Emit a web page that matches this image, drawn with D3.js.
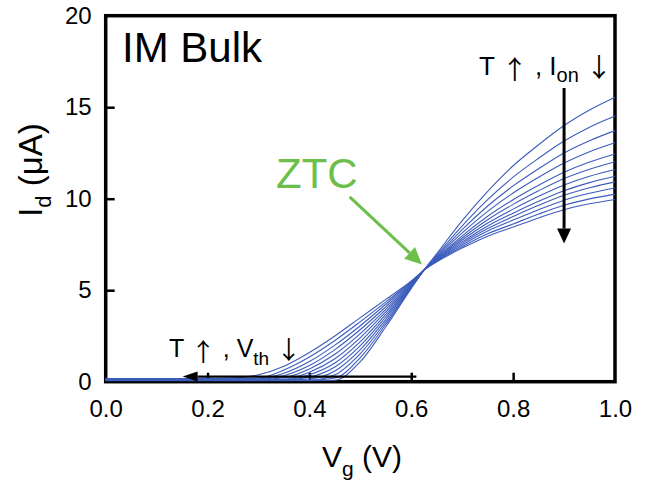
<!DOCTYPE html>
<html><head><meta charset="utf-8">
<script src="https://cdn.jsdelivr.net/npm/d3@7"></script>
<style>
html,body{margin:0;padding:0;background:#fff;}
svg{display:block;font-family:Arial,"Liberation Sans",sans-serif;}
</style></head>
<body>
<svg id="c" width="649" height="482"></svg>
<script>
// Gate voltage grid (V)
const vg = [0, 0.1, 0.2, 0.25, 0.3, 0.35, 0.4, 0.45, 0.5, 0.55, 0.6, 0.625, 0.65, 0.7, 0.75, 0.8, 0.85, 0.9, 0.95, 1.0];
// Drain current (uA), one curve per temperature, coldest first
const id_T0  = [.06,.06,.06,.06,.06,.06,.06,.08,1.1,3.0,5.1,6.1,7.0,8.8,10.4,11.8,12.95,14.0,14.85,15.55];
const id_T1  = [.07,.07,.07,.07,.07,.07,.07,.2,1.32,3.14,5.14,6.1,6.92,8.52,9.95,11.18,12.21,13.15,13.91,14.52];
const id_T2  = [.08,.08,.08,.08,.08,.08,.08,.38,1.54,3.27,5.17,6.1,6.85,8.31,9.6,10.7,11.64,12.5,13.17,13.72];
const id_T3  = [.09,.09,.09,.09,.09,.09,.15,.58,1.75,3.41,5.21,6.1,6.8,8.13,9.31,10.31,11.17,11.95,12.57,13.06];
const id_T4  = [.1,.1,.1,.1,.1,.1,.25,.8,1.97,3.55,5.25,6.1,6.75,7.97,9.04,9.94,10.73,11.44,12.0,12.44];
const id_T5  = [.11,.11,.11,.11,.11,.11,.38,1.02,2.19,3.68,5.28,6.1,6.72,7.85,8.85,9.69,10.43,11.1,11.61,12.02];
const id_T6  = [.12,.12,.12,.12,.12,.14,.52,1.25,2.41,3.82,5.32,6.1,6.68,7.74,8.67,9.43,10.13,10.75,11.23,11.6];
const id_T7  = [.13,.13,.13,.13,.13,.22,.7,1.5,2.63,3.95,5.35,6.1,6.65,7.64,8.51,9.21,9.86,10.44,10.88,11.23];
const id_T8  = [.14,.14,.14,.14,.14,.33,.88,1.75,2.85,4.09,5.39,6.1,6.63,7.56,8.37,9.03,9.64,10.19,10.6,10.92];
const id_T9  = [.15,.15,.15,.15,.15,.46,1.1,2.0,3.06,4.23,5.43,6.1,6.6,7.47,8.23,8.83,9.4,9.92,10.3,10.59];
const id_T10 = [.16,.16,.16,.16,.2,.64,1.35,2.25,3.28,4.36,5.46,6.1,6.57,7.38,8.08,8.62,9.16,9.64,9.99,10.25];
const id_T11 = [.17,.17,.17,.2,.38,.85,1.6,2.5,3.5,4.5,5.5,6.1,6.55,7.3,7.95,8.45,8.95,9.4,9.72,9.96];
const series = [id_T0,id_T1,id_T2,id_T3,id_T4,id_T5,id_T6,id_T7,id_T8,id_T9,id_T10,id_T11];
// Tick labels
const xTicks = [0, 0.2, 0.4, 0.6, 0.8, 1.0];
const yTicks = [0, 5, 10, 15, 20];

const svg = d3.select("#c");
const x = d3.scaleLinear().domain([0, 1]).range([105.7, 615]);
const y = d3.scaleLinear().domain([0, 20]).range([381.7, 15.7]);
const blue = "#3c5cbc", green = "#6cc04a";
const arrowFont = "'Noto Sans CJK JP', 'DejaVu Sans', sans-serif";

// axes
const xa = svg.append("g").attr("transform", `translate(0,${y(0)})`)
  .call(d3.axisBottom(x).tickValues(xTicks).tickFormat(d3.format(".1f")).tickSizeInner(-9).tickSizeOuter(0).tickPadding(18));
const ya = svg.append("g").attr("transform", `translate(${x(0)},0)`)
  .call(d3.axisLeft(y).tickValues(yTicks).tickFormat(d3.format("d")).tickSizeInner(-9).tickSizeOuter(0).tickPadding(14));
[xa, ya].forEach(a => {
  a.select(".domain").remove();
  a.selectAll(".tick line").attr("stroke", "#000").attr("stroke-width", 2.5);
  a.selectAll(".tick text").attr("font-size", 24).attr("fill", "#000").attr("font-family", "Arial, 'Liberation Sans', sans-serif");
});
ya.selectAll(".tick").filter(d => d === 0 || d === 20).select("line").remove();
xa.selectAll(".tick").filter(d => d === 0 || d === 1).select("line").remove();

// frame
svg.append("rect").attr("x", x(0)).attr("y", y(20)).attr("width", x(1) - x(0)).attr("height", y(0) - y(20))
  .attr("fill", "none").attr("stroke", "#000").attr("stroke-width", 3.5);

// curves
const line = d3.line().x((d, i) => x(vg[i])).y(d => y(d)).curve(d3.curveMonotoneX);
svg.append("g").selectAll("path").data(series).join("path")
  .attr("d", line).attr("fill", "none").attr("stroke", blue).attr("stroke-width", 1.1);

// arrows
function arrow(x1, y1, x2, y2, color, w, hl, hw) {
  const ang = Math.atan2(y2 - y1, x2 - x1);
  const bx = x2 - hl * Math.cos(ang), by = y2 - hl * Math.sin(ang);
  svg.append("line").attr("x1", x1).attr("y1", y1).attr("x2", bx).attr("y2", by)
    .attr("stroke", color).attr("stroke-width", w);
  const px = -Math.sin(ang) * hw, py = Math.cos(ang) * hw;
  svg.append("path").attr("d", `M${x2},${y2}L${bx + px},${by + py}L${bx - px},${by - py}Z`).attr("fill", color);
}
arrow(x(0.61), y(0.28), x(0.151), y(0.28), "#000", 2.2, 15, 5);
arrow(x(0.9), y(16.05), x(0.9), y(7.55), "#000", 3, 15, 7);
arrow(x(0.479), y(10.1), x(0.621), y(6.4), green, 3, 17, 8);

// texts
svg.append("text").attr("x", 122).attr("y", 62).attr("font-size", 42).text("IM Bulk");
svg.append("text").attr("x", 276).attr("y", 188).attr("font-size", 42).attr("fill", green).text("ZTC");

function tempLabel(x0, y0, fs, sub, subDy) {
  const t = svg.append("text").attr("x", x0).attr("y", y0).attr("font-size", fs).attr("fill", "#000");
  t.append("tspan").text("T ");
  t.append("tspan").attr("font-family", arrowFont).attr("fill", "#000").attr("dy", 4).text("\u2191");
  t.append("tspan").attr("dy", -4).text(" , ");
  t.append("tspan").text(sub[0]);
  t.append("tspan").attr("font-size", Math.round(fs * 0.75)).attr("dy", subDy).text(sub[1]);
  t.append("tspan").attr("dy", -subDy).text(" ");
  t.append("tspan").attr("font-family", arrowFont).attr("fill", "#000").attr("dy", 2).text("\u2193");
}
tempLabel(479, 75, 26, ["I", "on"], 7);
tempLabel(169, 357, 25, ["V", "th"], 8);

const xl = svg.append("text").attr("x", 362).attr("y", 467).attr("text-anchor", "middle").attr("font-size", 30);
xl.append("tspan").text("V");
xl.append("tspan").attr("font-size", 21).attr("dy", 9).text("g");
xl.append("tspan").attr("dy", -9).text(" (V)");

const yl = svg.append("text").attr("transform", "translate(42,170) rotate(-90)").attr("text-anchor", "middle").attr("font-size", 33);
yl.append("tspan").text("I");
yl.append("tspan").attr("font-size", 22).attr("dy", 9).text("d");
yl.append("tspan").attr("dy", -9).text(" (\u03bcA)");
</script>
</body></html>
